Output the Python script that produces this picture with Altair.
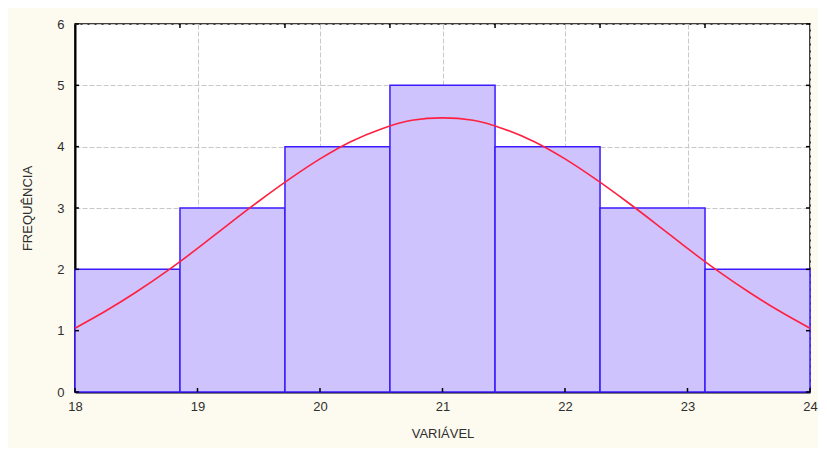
import altair as alt
import pandas as pd

# Histogram bins (edges) and frequencies
bin_left = [18.0, 18.857, 19.714, 20.571, 21.429, 22.286, 23.143]
bin_right = [18.857, 19.714, 20.571, 21.429, 22.286, 23.143, 24.0]
freq = [2, 3, 4, 5, 4, 3, 2]

# Fitted normal curve
curve_x = [18.0, 18.25, 18.5, 18.75, 19.0, 19.25, 19.5, 19.75, 20.0, 20.25, 20.5, 20.75,
           21.0, 21.25, 21.5, 21.75, 22.0, 22.25, 22.5, 22.75, 23.0, 23.25, 23.5, 23.75, 24.0]
curve_y = [1.04, 1.32, 1.63, 1.97, 2.34, 2.73, 3.11, 3.47, 3.80, 4.08, 4.29, 4.43,
           4.47, 4.43, 4.29, 4.08, 3.80, 3.47, 3.11, 2.73, 2.34, 1.97, 1.63, 1.32, 1.04]

x_ticks = [18, 19, 20, 21, 22, 23, 24]
y_ticks = [0, 1, 2, 3, 4, 5, 6]
top_ticks = [18.857, 19.714, 20.571, 21.429, 22.286, 23.143]

W, H = 735, 368
FONT = "Liberation Sans"

bars_df = pd.DataFrame({"x0": bin_left, "x1": bin_right, "f": freq, "z": [0] * len(freq)})
curve_df = pd.DataFrame({"x": curve_x, "y": curve_y})
xt_df = pd.DataFrame({"v": x_ticks})
yt_df = pd.DataFrame({"v": y_ticks})
tt_df = pd.DataFrame({"v": top_ticks})

xscale = alt.Scale(domain=[18, 24], nice=False, zero=False)
yscale = alt.Scale(domain=[0, 6], nice=False)

xaxis = alt.Axis(values=x_ticks, format="d", title="VARIÁVEL", ticks=False, labelFlush=False,
                 labelPadding=8, titlePadding=14, grid=True, gridDash=[5, 2],
                 gridColor="#c8c8c8", domainColor="#000000", domainWidth=2)
yaxis = alt.Axis(values=y_ticks, format="d", title="FREQUÊNCIA", ticks=False, labelFlush=False,
                 labelPadding=11, titlePadding=22, grid=True, gridDash=[5, 2],
                 gridColor="#c8c8c8", domainColor="#000000", domainWidth=2)

bars = alt.Chart(bars_df).mark_rect(
    color="#cfc3fd", stroke="#3a1aff", strokeWidth=1.5
).encode(
    x=alt.X("x0:Q", scale=xscale, axis=xaxis),
    x2="x1:Q",
    y=alt.Y("f:Q", scale=yscale, axis=yaxis),
    y2="z:Q",
)

curve = alt.Chart(curve_df).mark_line(
    color="#ff2040", strokeWidth=1.6, interpolate="monotone"
).encode(
    x=alt.X("x:Q", scale=xscale),
    y=alt.Y("y:Q", scale=yscale),
)

bottom_ticks = alt.Chart(xt_df).mark_rule(color="#000000", strokeWidth=1.5).encode(
    x=alt.X("v:Q", scale=xscale), y=alt.value(H - 4), y2=alt.value(H)
)
top_t = alt.Chart(tt_df).mark_rule(color="#000000", strokeWidth=1.5).encode(
    x=alt.X("v:Q", scale=xscale), y=alt.value(0), y2=alt.value(4)
)
left_ticks = alt.Chart(yt_df).mark_rule(color="#000000", strokeWidth=1.5).encode(
    y=alt.Y("v:Q", scale=yscale), x=alt.value(0), x2=alt.value(4)
)
right_ticks = alt.Chart(yt_df).mark_rule(color="#000000", strokeWidth=1.5).encode(
    y=alt.Y("v:Q", scale=yscale), x=alt.value(W - 4), x2=alt.value(W)
)

chart = alt.layer(bars, curve, bottom_ticks, top_t, left_ticks, right_ticks).properties(
    width=W, height=H,
    autosize=alt.AutoSizeParams(type="none"),
    padding={"left": 67, "top": 16, "right": 8, "bottom": 56},
    background="#fdfbef",
).configure_view(
    fill="#ffffff", stroke="#000000", strokeWidth=1.5
).configure_axis(
    labelFont=FONT, titleFont=FONT, labelFontSize=13, titleFontSize=13,
    labelColor="#2e2e2e", titleColor="#2e2e2e", titleFontWeight="normal",
)

chart.save("out.html", embed_options={"renderer": "svg", "actions": False})
